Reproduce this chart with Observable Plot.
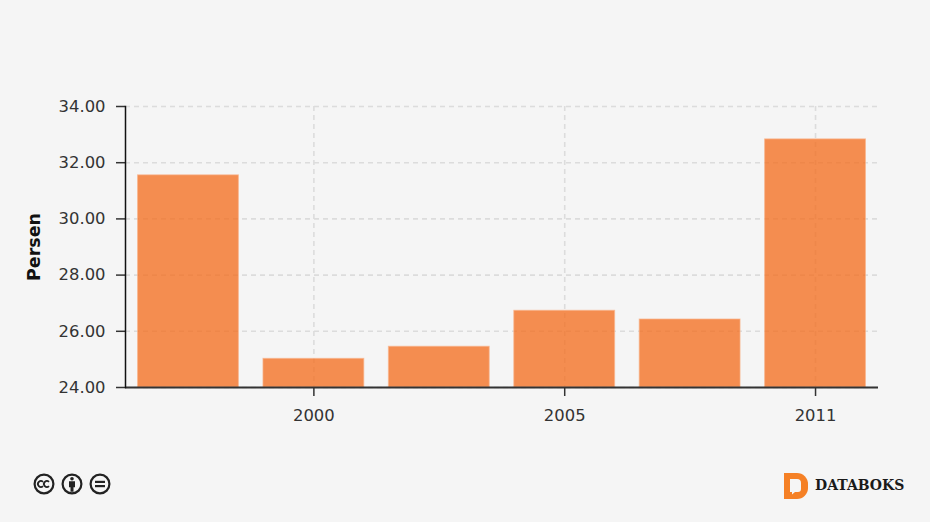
<!DOCTYPE html>
<html>
<head>
<meta charset="utf-8">
<script src="https://cdn.jsdelivr.net/npm/d3@7"></script>
<script src="https://cdn.jsdelivr.net/npm/@observablehq/plot@0.6"></script>
<style>
html,body{margin:0;padding:0;background:#f5f5f5;width:930px;height:522px;overflow:hidden}
#wrap{position:relative;width:930px;height:522px}
#chart{position:absolute;left:0;top:0}
#cc{position:absolute;left:33px;top:473px}
#logo{position:absolute;left:783px;top:472px}
#brand{position:absolute;left:815px;top:477px;font:bold 14px "DejaVu Serif",serif;color:#1a1a1a}
</style>
</head>
<body>
<div id="wrap">
<div id="chart"></div>
<svg id="cc" width="80" height="22" viewBox="0 0 80 22">
  <g fill="none" stroke="#222" stroke-width="2.2">
    <circle cx="11" cy="11" r="9.4"/><circle cx="39" cy="11" r="9.4"/><circle cx="67" cy="11" r="9.4"/>
    <path d="M10 8.8a3 3 0 1 0 0 4.4M16 8.8a3 3 0 1 0 0 4.4" stroke-width="1.8"/>
  </g>
  <g fill="#222">
    <circle cx="39" cy="5.8" r="1.8"/>
    <path d="M36 8.2h6v6h-1.5v4.5h-3v-4.5H36z"/>
    <rect x="62" y="7.8" width="10" height="2.2"/><rect x="62" y="12" width="10" height="2.2"/>
  </g>
</svg>
<svg id="logo" width="26" height="28" viewBox="0 0 26 28">
  <path fill="#f58025" d="M1 1h13a11 11 0 0 1 11 11v4a11 11 0 0 1-11 11H1z"/>
  <path fill="#f5f5f5" d="M7 7h7a4 4 0 0 1 4 4v6a3 3 0 0 1-3 3h-3l-3 2.5V20H7z"/>
</svg>
<div id="brand">DATABOKS</div>
</div>
<script>
const categories = ["1996", "2000", "2002", "2005", "2008", "2011"];
const values = [31.55, 25.02, 25.45, 26.73, 26.42, 32.83];
const xTicks = ["2000", "2005", "2011"];
const yTicks = [24, 26, 28, 30, 32, 34];
const rows = categories.map((year, i) => ({year, value: values[i]}));

const chart = Plot.plot({
  width: 930,
  height: 522,
  marginTop: 106,
  marginBottom: 135,
  marginLeft: 125,
  marginRight: 52,
  style: {background: "transparent", fontFamily: "'DejaVu Sans', Verdana, sans-serif", fontSize: "16.4px", color: "#333"},
  x: {domain: categories, paddingInner: 0.196, paddingOuter: 0.1, align: 0.5, round: false, label: null},
  y: {domain: [24, 34], label: null},
  marks: [
    Plot.gridY(yTicks, {stroke: "#dcdcdc", strokeOpacity: 1, strokeWidth: 1.6, strokeDasharray: "5,4"}),
    Plot.gridX(xTicks, {stroke: "#dcdcdc", strokeOpacity: 1, strokeWidth: 1.6, strokeDasharray: "5,4"}),
    Plot.barY(rows, {x: "year", y1: 24, y2: "value", fill: "#f37021", fillOpacity: 0.78, stroke: "#f9b48a", strokeWidth: 1, strokeOpacity: 0.7}),
    Plot.axisX({ticks: xTicks, tickSize: 9, tickPadding: 13, label: null, stroke: "#333", strokeWidth: 1.5, fill: "#333", fontSize: 16.4}),
    Plot.axisY({ticks: yTicks, tickSize: 9, tickPadding: 11, label: null, stroke: "#333", strokeWidth: 1.5, fill: "#333", tickFormat: d => d.toFixed(2), fontSize: 16.4}),
    Plot.ruleY([24], {stroke: "#333", strokeWidth: 2}),
    Plot.frame({anchor: "left", stroke: "#111", strokeWidth: 1.5}),
    Plot.text(["Persen"], {frameAnchor: "left", textAnchor: "middle", dx: -91, rotate: -90, fontWeight: "bold", fontSize: 17.5, fill: "#111"})
  ]
});
document.getElementById("chart").appendChild(chart);
</script>
</body>
</html>
